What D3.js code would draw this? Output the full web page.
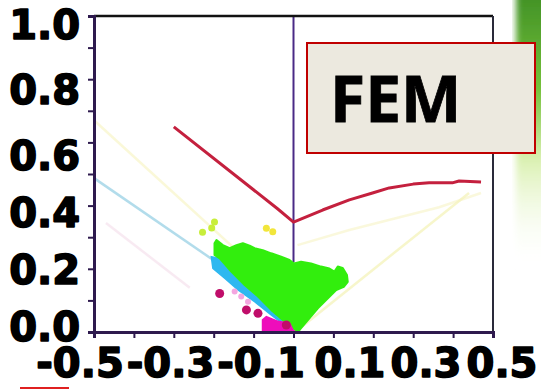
<!DOCTYPE html>
<html lang="en">
<head>
  <meta charset="UTF-8">
  <title>FEM</title>
  <script src="https://d3js.org/d3.v7.min.js"></script>
  <style>
    body { margin: 0; background: #fff; }
    svg { display: block; }
    .tick-label { font-family: "DejaVu Sans", sans-serif; font-weight: bold; font-size: 40px; fill: #000; stroke: #000; stroke-width: 1.6px; stroke-linejoin: round; }
    .fem { font-family: "Open Sans", sans-serif; font-weight: bold; font-size: 64px; fill: #000; stroke: #000; stroke-width: 0.8px; }
  </style>
</head>
<body>
  <div id="chart"></div>

  <script>
    // Axis ticks and labels
    const xTicks = [-0.5, -0.4, -0.3, -0.2, -0.1, 0.0, 0.1, 0.2, 0.3, 0.4, 0.5];
    const xTickLabels = ["-0.5", "-0.3", "-0.1", "0.1", "0.3", "0.5"];
    const yTicks = [0.0, 0.1, 0.2, 0.3, 0.4, 0.5, 0.6, 0.7, 0.8, 0.9, 1.0];
    const yTickLabels = ["0.0", "0.2", "0.4", "0.6", "0.8", "1.0"];

    // Red threshold curve
    const redCurve = [
      [-0.3, 0.649], [-0.04, 0.39], [0.0, 0.348], [0.073, 0.386], [0.14, 0.418],
      [0.198, 0.44], [0.24, 0.456], [0.30, 0.468], [0.34, 0.472], [0.398, 0.472],
      [0.415, 0.478], [0.47, 0.475]
    ];

    // Dense green cloud (outline of the point mass)
    const greenCloud = [
      [-0.193, 0.291], [-0.177, 0.275], [-0.16, 0.265], [-0.143, 0.275], [-0.127, 0.281],
      [-0.11, 0.273], [-0.0975, 0.265], [-0.077, 0.259], [-0.056, 0.249], [-0.031, 0.238],
      [-0.01, 0.228], [0.001, 0.217], [0.019, 0.222], [0.044, 0.217], [0.069, 0.207],
      [0.09, 0.201], [0.1025, 0.191], [0.111, 0.207], [0.123, 0.203], [0.134, 0.18],
      [0.136, 0.159], [0.126, 0.143], [0.107, 0.133], [0.061, 0.075], [0.019, 0.012],
      [0.011, 0.0], [-0.002, 0.012], [-0.0225, 0.033], [-0.056, 0.07], [-0.089, 0.112],
      [-0.1225, 0.149], [-0.156, 0.191], [-0.185, 0.233], [-0.198, 0.244], [-0.198, 0.281]
    ];

    // Cyan band along the lower-left edge
    const cyanBand = [
      [-0.206, 0.238], [-0.185, 0.233], [-0.156, 0.191], [-0.1225, 0.149], [-0.089, 0.112],
      [-0.056, 0.07], [-0.0225, 0.033], [-0.002, 0.012], [-0.0225, 0.022], [-0.056, 0.054],
      [-0.0975, 0.096], [-0.139, 0.133], [-0.1725, 0.17], [-0.202, 0.201]
    ];

    // Magenta points and cluster
    const magentaPoints = [[-0.185, 0.122], [-0.118, 0.07], [-0.089, 0.059], [-0.018, 0.022]];
    const magentaCluster = [[-0.077, 0.0], [-0.077, 0.038], [-0.068, 0.048], [-0.039, 0.033], [-0.01, 0.027], [-0.002, 0.006], [0.004, 0.0]];
    const pinkPoints = [[-0.1475, 0.128], [-0.131, 0.112], [-0.114, 0.096]];
    const limePoints = [[-0.228, 0.316], [-0.205, 0.329], [-0.198, 0.348]];
    const yellowPoints = [[-0.068, 0.328], [-0.052, 0.317]];

    // Faint background lines
    const cyanLine = [[-0.5, 0.487], [-0.206, 0.232]];
    const pinkLine = [[-0.47, 0.345], [-0.26, 0.14]];
    const yellowLineLeft = [[-0.5, 0.67], [-0.04, 0.14]];
    const yellowLineRight = [[0.02, 0.016], [0.44, 0.44]];
    const yellowCurveRight = [[0.01, 0.275], [0.14, 0.323], [0.365, 0.395], [0.47, 0.44]];

    const width = 541, height = 389;
    const svg = d3.select("#chart").append("svg")
      .attr("width", width).attr("height", height);

    const x = d3.scaleLinear().domain([-0.5, 0.5]).range([94, 493]);
    const y = d3.scaleLinear().domain([0, 1]).range([332, 16]);
    // tick labels in the picture are packed tighter than the ticks themselves
    const xLab = d3.scaleLinear().domain([-0.5, -0.1, 0.1, 0.5]).range([80, 261, 350, 502]);
    const yLab = d3.scaleLinear().domain([0, 0.6, 1]).range([326, 155, 24.5]);

    const line = d3.line().x(d => x(d[0])).y(d => y(d[1]));
    const poly = pts => line(pts) + "Z";

    // green blurred strip on the right edge
    const defs = svg.append("defs");
    const g1 = defs.append("linearGradient").attr("id", "strip").attr("x1", 0).attr("y1", 0).attr("x2", 0).attr("y2", 1);
    g1.append("stop").attr("offset", "0%").attr("stop-color", "#3f8f25");
    g1.append("stop").attr("offset", "35%").attr("stop-color", "#74c03a");
    g1.append("stop").attr("offset", "60%").attr("stop-color", "#d9f0b0");
    g1.append("stop").attr("offset", "100%").attr("stop-color", "#ffffff").attr("stop-opacity", 0);
    defs.append("filter").attr("id", "blur").append("feGaussianBlur").attr("stdDeviation", 3);
    defs.append("filter").attr("id", "soft").append("feGaussianBlur").attr("stdDeviation", 0.6);
    svg.append("rect").attr("x", 516).attr("y", -10).attr("width", 32).attr("height", 280)
      .attr("fill", "url(#strip)").attr("filter", "url(#blur)");

    // faint lines
    const faint = [
      [cyanLine, "#9fd3e6", 0.8],
      [pinkLine, "#f2d6e6", 0.5],
      [yellowLineLeft, "#f6f3b8", 0.55],
      [yellowLineRight, "#f1f0a8", 0.6],
      [yellowCurveRight, "#f5f2c0", 0.55]
    ];
    faint.forEach(([pts, c, o]) => {
      svg.append("path").attr("d", line(pts)).attr("fill", "none")
        .attr("stroke", c).attr("stroke-opacity", o).attr("stroke-width", 2.5);
    });

    // vertical line at x = 0
    svg.append("line")
      .attr("x1", x(0)).attr("x2", x(0)).attr("y1", y(1)).attr("y2", y(0.22))
      .attr("stroke", "#4a2a86").attr("stroke-width", 2);

    // red curve
    svg.append("path").attr("d", line(redCurve)).attr("fill", "none")
      .attr("stroke", "#c4203e").attr("stroke-width", 3).attr("stroke-linejoin", "round");

    // point masses
    const masses = svg.append("g").attr("filter", "url(#soft)");
    masses.append("path").attr("d", poly(cyanBand)).attr("fill", "#2fb8f0")
      .attr("stroke", "#2fb8f0").attr("stroke-width", 1.5);
    masses.append("path").attr("d", poly(greenCloud)).attr("fill", "#33ee11")
      .attr("stroke", "#33ee11").attr("stroke-width", 2).attr("stroke-linejoin", "round");
    masses.append("path").attr("d", poly(magentaCluster)).attr("fill", "#ee11bb")
      .attr("stroke", "#ee11bb").attr("stroke-width", 2);

    masses.selectAll(".pink").data(pinkPoints).enter().append("circle")
      .attr("cx", d => x(d[0])).attr("cy", d => y(d[1])).attr("r", 3).attr("fill", "#f4a6e0");
    masses.selectAll(".mag").data(magentaPoints).enter().append("circle")
      .attr("cx", d => x(d[0])).attr("cy", d => y(d[1])).attr("r", 4.5).attr("fill", "#c0106a");
    masses.selectAll(".lime").data(limePoints).enter().append("circle")
      .attr("cx", d => x(d[0])).attr("cy", d => y(d[1])).attr("r", 3.5).attr("fill", "#c8ee3a");
    masses.selectAll(".yel").data(yellowPoints).enter().append("circle")
      .attr("cx", d => x(d[0])).attr("cy", d => y(d[1])).attr("r", 3.5).attr("fill", "#f2e63a");

    // frame
    svg.append("line").attr("x1", x(-0.5)).attr("x2", x(0.5)).attr("y1", y(1)).attr("y2", y(1))
      .attr("stroke", "#111").attr("stroke-width", 2.5);
    svg.append("line").attr("x1", x(0.5)).attr("x2", x(0.5)).attr("y1", y(1)).attr("y2", y(0))
      .attr("stroke", "#2a2a3a").attr("stroke-width", 2);

    // axes
    const axisColor = "#2e1a4e";
    const yAxis = svg.append("g").attr("transform", `translate(${x(-0.5)},0)`)
      .call(d3.axisLeft(y).tickValues(yTicks).tickSize(6).tickFormat(""));
    const xAxis = svg.append("g").attr("transform", `translate(0,${y(0)})`)
      .call(d3.axisBottom(x).tickValues(xTicks).tickSize(6).tickFormat(""));
    [xAxis, yAxis].forEach(a => {
      a.select(".domain").attr("stroke", axisColor).attr("stroke-width", 3);
      a.selectAll(".tick line").attr("stroke", axisColor).attr("stroke-width", 2);
    });

    // tick labels
    svg.selectAll(".ylab").data(yTickLabels).enter().append("text")
      .attr("class", "tick-label")
      .attr("x", 80).attr("y", d => yLab(+d) + 14.5)
      .attr("text-anchor", "end")
      .text(d => d);
    svg.selectAll(".xlab").data(xTickLabels).enter().append("text")
      .attr("class", "tick-label")
      .attr("x", d => xLab(+d)).attr("y", 377)
      .attr("text-anchor", "middle")
      .text(d => d);

    // label box
    svg.append("rect").attr("x", 307).attr("y", 43).attr("width", 228).attr("height", 110)
      .attr("fill", "#ece9df").attr("stroke", "#c00000").attr("stroke-width", 2);
    svg.append("text").attr("class", "fem").attr("x", 330).attr("y", 122).text("FEM");

    // red mark at the bottom edge
    svg.append("line").attr("x1", 20).attr("x2", 69).attr("y1", 388).attr("y2", 388)
      .attr("stroke", "#e02020").attr("stroke-width", 2);
  </script>
</body>
</html>
